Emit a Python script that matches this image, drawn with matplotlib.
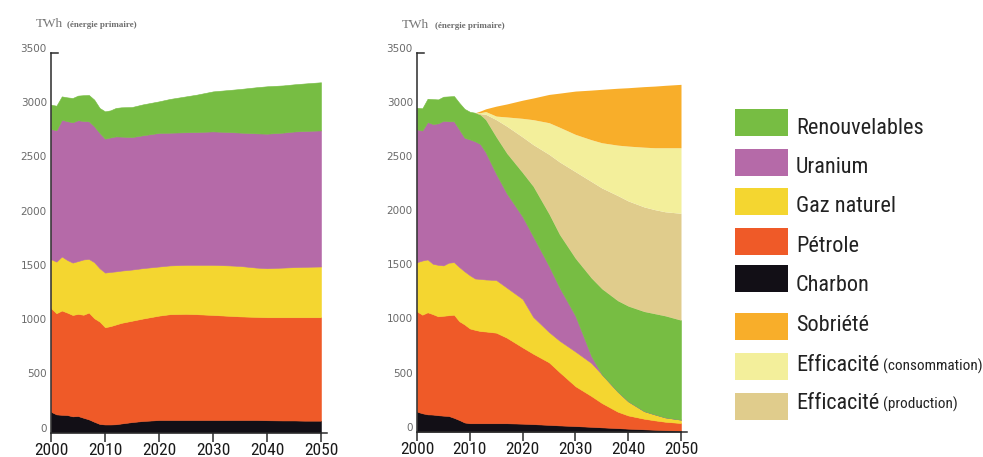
import matplotlib
matplotlib.use("Agg")
import matplotlib.pyplot as plt
from matplotlib import font_manager
from matplotlib.transforms import ScaledTranslation
from matplotlib.patches import Rectangle


def police(*noms):
    dispo = {f.name for f in font_manager.fontManager.ttflist}
    for n in noms:
        if n in dispo:
            return n
    return "DejaVu Sans"


etroite = police("Liberation Sans Narrow", "Roboto Condensed", "DejaVu Sans Condensed", "Roboto")
serif = police("Liberation Serif", "DejaVu Serif")

# Données (TWh, énergie primaire)
annees = [2000, 2001, 2002, 2003, 2004, 2005, 2006, 2007, 2008, 2009, 2010, 2011, 2012, 2013,
          2015, 2017, 2020, 2022, 2025, 2027, 2030, 2033, 2035, 2038, 2040, 2043, 2045, 2047, 2050]

# Scénario tendanciel (graphique de gauche)
charbon_t = [191, 167, 163, 161, 149, 152, 136, 121, 99, 79, 74, 74, 76, 83, 96, 106, 115, 115,
             115, 115, 115, 115, 115, 115, 113, 111, 111, 109, 109]
petrole_t = [955, 933, 962, 945, 935, 942, 950, 985, 955, 944, 897, 907, 920, 928, 935, 945, 963,
             976, 979, 976, 969, 961, 956, 951, 950, 952, 952, 954, 954]
gaz_t = [452, 476, 498, 485, 483, 487, 510, 495, 517, 492, 504, 500, 490, 482, 472, 465, 453, 450,
         452, 455, 462, 465, 465, 455, 452, 458, 462, 465, 468]
uranium_t = [1201, 1211, 1262, 1280, 1294, 1299, 1277, 1269, 1253, 1248, 1235, 1240, 1245, 1236,
             1222, 1225, 1232, 1224, 1223, 1225, 1231, 1230, 1230, 1238, 1241, 1245, 1251, 1253, 1255]
renouv_t = [224, 227, 215, 220, 224, 227, 238, 243, 246, 230, 252, 250, 262, 270, 277, 285, 291,
            311, 331, 345, 369, 388, 402, 425, 437, 435, 435, 438, 444]

# Scénario négaWatt (graphique de droite)
charbon_n = [185, 170, 160, 158, 152, 148, 145, 128, 108, 85, 78, 78, 78, 78, 78, 78, 74, 70, 63,
             58, 52, 45, 40, 33, 28, 22, 18, 14, 10]
petrole_n = [925, 910, 942, 927, 913, 922, 930, 952, 912, 905, 875, 862, 851, 847, 836, 790, 704,
             650, 577, 492, 368, 285, 225, 152, 122, 98, 87, 78, 70]
gaz_n = [455, 500, 488, 465, 475, 465, 485, 485, 500, 490, 491, 474, 481, 480, 486, 462, 447, 340,
         280, 290, 320, 305, 265, 185, 130, 70, 55, 40, 31]
uranium_n = [1225, 1200, 1268, 1290, 1306, 1335, 1305, 1300, 1270, 1233, 1254, 1266, 1245, 1175,
             980, 870, 760, 743, 610, 490, 330, 65, 0, 0, 0, 0, 0, 0, 0]
renouv_n = [200, 205, 215, 230, 221, 222, 230, 233, 246, 267, 255, 264, 270, 300, 340, 370, 405,
            462, 480, 490, 530, 720, 790, 840, 880, 920, 930, 938, 919]
eff_prod = [0, 0, 0, 0, 0, 0, 0, 0, 0, 0, 0, 0, 10, 50, 160, 250, 330, 385, 550, 670, 800, 890,
            930, 970, 970, 965, 960, 960, 986]
eff_conso = [0, 0, 0, 0, 0, 0, 0, 0, 0, 0, 0, 0, 10, 25, 33, 85, 172, 230, 292, 320, 344, 385,
             417, 465, 506, 551, 571, 591, 605]
sobriete = [0, 0, 0, 0, 0, 0, 0, 0, 0, 0, 0, 0, 15, 25, 92, 120, 168, 200, 261, 315, 400, 458,
            493, 525, 539, 559, 569, 576, 585]

couleurs = {
    "Renouvelables": "#77bd43",
    "Uranium": "#b56aa8",
    "Gaz naturel": "#f4d630",
    "Pétrole": "#ef5a28",
    "Charbon": "#120f16",
    "Sobriété": "#f8ae2a",
    "conso": "#f3ef9b",
    "prod": "#e0cc8c",
}

fig = plt.figure(figsize=(9.83, 4.57), dpi=100)
W, H = 983, 457


def axes_px(x0, x1, y_haut, y_bas):
    return fig.add_axes([x0 / W, 1 - y_bas / H, (x1 - x0) / W, (y_bas - y_haut) / H])


ax1 = axes_px(51, 321, 53, 432.5)
ax2 = axes_px(417, 681, 52.5, 431.7)

ax1.stackplot(annees, charbon_t, petrole_t, gaz_t, uranium_t, renouv_t,
              colors=[couleurs[k] for k in ["Charbon", "Pétrole", "Gaz naturel", "Uranium", "Renouvelables"]],
              edgecolor="face", linewidth=0.4)
couches = ax2.stackplot(annees, charbon_n, petrole_n, gaz_n, uranium_n, renouv_n, eff_prod, eff_conso, sobriete,
                        colors=[couleurs[k] for k in ["Charbon", "Pétrole", "Gaz naturel", "Uranium",
                                                      "Renouvelables", "prod", "conso", "Sobriété"]],
                        edgecolor="face", linewidth=0.4)
# pas de liseré pour les couches nulles avant 2011
for c in couches[5:]:
    c.set_linewidth(0)

decalage = ScaledTranslation(0, 5 / 100, fig.dpi_scale_trans)
for ax in (ax1, ax2):
    ax.set_xlim(2000, 2050)
    ax.set_ylim(0, 3500)
    ax.set_xticks(range(2000, 2051, 10))
    ax.set_yticks(range(0, 3501, 500))
    for s in ("top", "right"):
        ax.spines[s].set_visible(False)
    for s in ("left", "bottom"):
        ax.spines[s].set_color("#2b2b2b")
        ax.spines[s].set_linewidth(1.1)
    ax.tick_params(axis="x", length=6.5, width=1.1, color="#2b2b2b", pad=1,
                   labelsize=12.5, labelcolor="#1a1a1a")
    ax.tick_params(axis="y", length=0, pad=3, labelsize=7.5, labelcolor="#6a6a6a")
    for lab in ax.get_xticklabels():
        lab.set_fontfamily(etroite)
    for t in ax.yaxis.get_major_ticks():
        t.label1.set_transform(t.label1.get_transform() + decalage)
    ax.plot([0, 0.026], [1, 1], transform=ax.transAxes, color="#2b2b2b", lw=1.1, clip_on=False)
    ax.plot([1, 1.022], [0, 0], transform=ax.transAxes, color="#2b2b2b", lw=1.1, clip_on=False)

# Titres d'unité
for x0, x1, y in [(36, 67, 27), (402, 435, 28)]:
    fig.text(x0 / W, 1 - y / H, "TWh", family=serif, fontsize=9.5, color="#777777")
    fig.text(x1 / W, 1 - y / H, "(énergie primaire)", family=serif, fontsize=6.5,
             fontweight="bold", color="#6e6e6e")

# Légende
legende = [
    ("Renouvelables", "", "Renouvelables", 109, 134),
    ("Uranium", "", "Uranium", 149, 173),
    ("Gaz naturel", "", "Gaz naturel", 188, 212),
    ("Pétrole", "", "Pétrole", 228, 252),
    ("Charbon", "", "Charbon", 265, 291),
    ("Sobriété", "", "Sobriété", 313, 331),
    ("Efficacité", "(consommation)", "conso", 353, 371),
    ("Efficacité", "(production)", "prod", 393, 409),
]
for nom, suffixe, cle, y_patch, y_texte in legende:
    fig.patches.append(Rectangle((735 / W, 1 - (y_patch + 27) / H), 53 / W, 27 / H,
                                 transform=fig.transFigure, facecolor=couleurs[cle], edgecolor="none"))
    fig.text(796 / W, 1 - y_texte / H, nom, family=etroite, fontsize=16, color="#222222",
             va="baseline")
    if suffixe:
        fig.text(883 / W, 1 - y_texte / H, suffixe, family=etroite, fontsize=11, color="#222222",
                 va="baseline")

fig.savefig("out.png", dpi=100)
